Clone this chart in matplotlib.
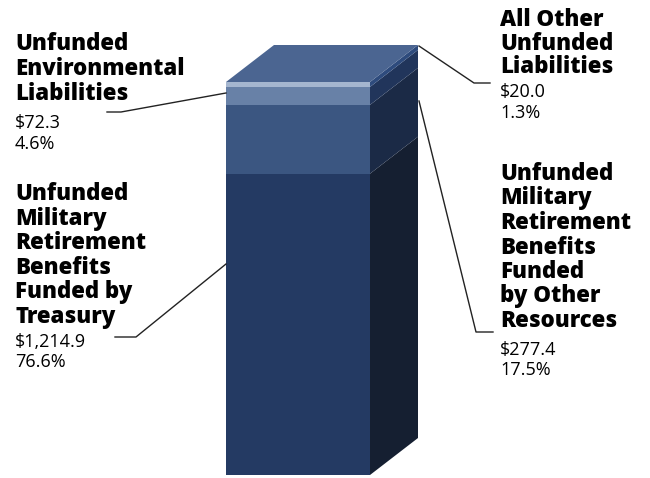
import matplotlib
matplotlib.use("Agg")
import matplotlib.pyplot as plt
from matplotlib.patches import Polygon

# segment values, bottom to top (billions)
labels = [
    ["Unfunded", "Military", "Retirement", "Benefits", "Funded by", "Treasury"],
    ["Unfunded", "Military", "Retirement", "Benefits", "Funded", "by Other", "Resources"],
    ["Unfunded", "Environmental", "Liabilities"],
    ["All Other", "Unfunded", "Liabilities"],
]
values = [1214.9, 277.4, 72.3, 20.0]
pcts = [76.6, 17.5, 4.6, 1.3]
amounts = ["$1,214.9", "$277.4", "$72.3", "$20.0"]

front_colors = ["#243a63", "#3b5681", "#6881a7", "#a5b6cf"]
side_colors = ["#151f31", "#1b2a46", "#21355b", "#2e4b7d"]
top_color = "#4b6591"

W, H = 650, 478
fig = plt.figure(figsize=(W / 100, H / 100), dpi=100)
ax = fig.add_axes([0, 0, 1, 1])

total = sum(values)
base_px, top_px = 475, 82
k = (base_px - top_px) / total          # pixels per unit
ax.set_xlim(0, W)
ax.set_ylim(-(H - base_px) / k, total + top_px / k)
ax.axis("off")

x0, x1 = 226, 370
dx, dy = 48, 37 / k

bottoms = [sum(values[:i]) for i in range(len(values))]
ax.bar(x0, values, width=x1 - x0, bottom=bottoms, align="edge",
       color=front_colors, linewidth=0, zorder=2)

# right-hand faces
for b, v, c in zip(bottoms, values, side_colors):
    ax.add_patch(Polygon([(x1, b), (x1 + dx, b + dy), (x1 + dx, b + v + dy), (x1, b + v)],
                         closed=True, fc=c, ec="none", zorder=2))
# top face
ax.add_patch(Polygon([(x0, total), (x1, total), (x1 + dx, total + dy), (x0 + dx, total + dy)],
                     closed=True, fc=top_color, ec="none", zorder=3))


def px(x, y):
    return x / W, 1 - y / H


def to_data(x, y):
    return x, (base_px - y) / k


def block(x, title_bases, title_lines, val_bases, amount, pct):
    for yb, t in zip(title_bases, title_lines):
        fig.text(*px(x, yb), t, fontsize=16, fontweight="heavy",
                 family=["Open Sans", "DejaVu Sans"], va="baseline", color="black")
    for yb, t in zip(val_bases, [amount, f"{pct}%"]):
        fig.text(*px(x, yb), t, fontsize=13,
                 family=["Open Sans", "DejaVu Sans"], va="baseline", color="black")


block(15, [200, 225, 249, 274, 298, 323], labels[0], [347, 367], amounts[0], pcts[0])
block(500, [180, 204.5, 229, 253.5, 278, 302.5, 327], labels[1], [355, 375], amounts[1], pcts[1])
block(15, [50, 75, 100], labels[2], [128, 149], amounts[2], pcts[2])
block(500, [26, 50, 73], labels[3], [97, 118], amounts[3], pcts[3])

# leader lines
leaders = [
    [(115, 337), (136, 337), (226, 264)],
    [(493, 332), (476, 332), (419, 101)],
    [(107, 112), (121, 112), (226, 93)],
    [(490, 83), (474, 83), (419, 46)],
]
for pts in leaders:
    xs, ys = zip(*[to_data(*p) for p in pts])
    ax.plot(xs, ys, color="#222222", lw=1.0, zorder=4)

fig.savefig("out.png", dpi=100)
